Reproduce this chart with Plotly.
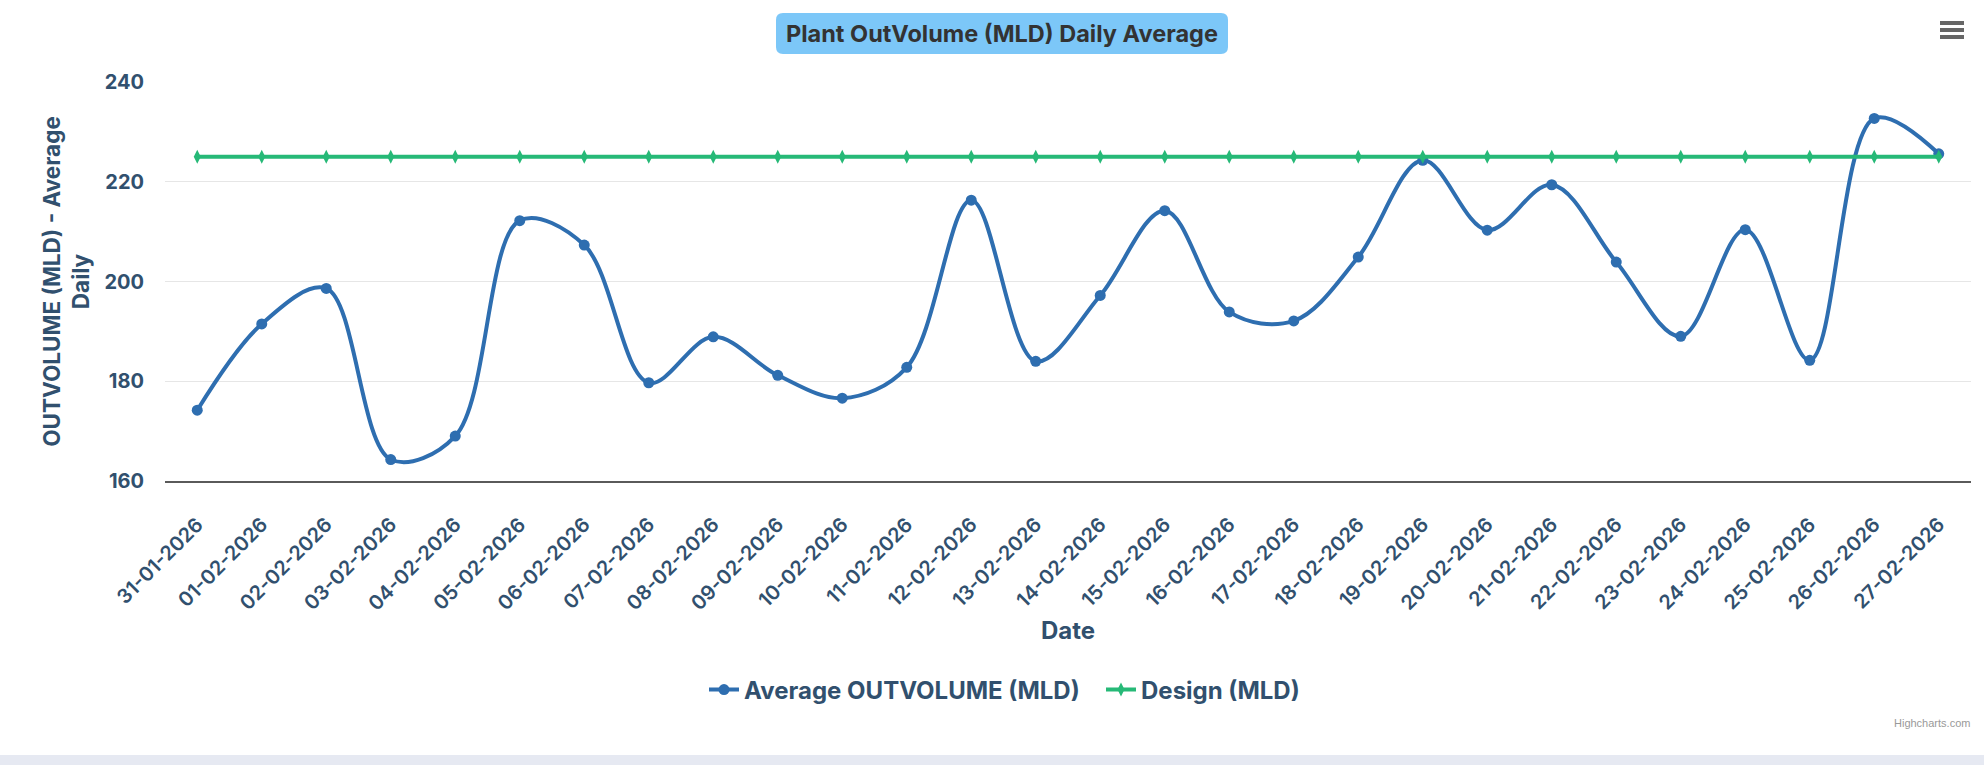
import plotly.graph_objects as go

# ---------------- data ----------------
dates = ["31-01-2026", "01-02-2026", "02-02-2026", "03-02-2026", "04-02-2026",
         "05-02-2026", "06-02-2026", "07-02-2026", "08-02-2026", "09-02-2026",
         "10-02-2026", "11-02-2026", "12-02-2026", "13-02-2026", "14-02-2026",
         "15-02-2026", "16-02-2026", "17-02-2026", "18-02-2026", "19-02-2026",
         "20-02-2026", "21-02-2026", "22-02-2026", "23-02-2026", "24-02-2026",
         "25-02-2026", "26-02-2026", "27-02-2026"]
avg_outvolume = [174.2, 191.5, 198.6, 164.3, 169.0, 212.2, 207.3, 179.7,
                 188.9, 181.2, 176.6, 182.8, 216.3, 184.0, 197.2, 214.2,
                 193.9, 192.1, 204.9, 224.3, 210.3, 219.4, 203.9, 189.0,
                 210.4, 184.2, 232.7, 225.6]
design = [225, 225, 225, 225, 225, 225, 225, 225, 225, 225, 225, 225, 225, 225,
          225, 225, 225, 225, 225, 225, 225, 225, 225, 225, 225, 225, 225, 225]
y_ticks = [160, 180, 200, 220, 240]

# ---------------- layout geometry ----------------
W, H = 1984, 765
L, R, T, B = 165, 13, 82, 284
PW, PH = W - L - R, H - T - B


def px(x):
    return (x - L) / PW


def py(y):
    return (H - B - y) / PH


TXT = "#31506e"
FONT = "Inter"
BLUE = "#2e6eb0"
GREEN = "#26b977"

fig = go.Figure()
fig.add_trace(go.Scatter(
    x=dates, y=avg_outvolume, name="Average OUTVOLUME (MLD)",
    mode="lines+markers",
    line=dict(color=BLUE, width=4, shape="spline", smoothing=1.0),
    marker=dict(symbol="circle", size=11, color=BLUE),
))
fig.add_trace(go.Scatter(
    x=dates, y=design, name="Design (MLD)",
    mode="lines+markers",
    line=dict(color=GREEN, width=4),
    marker=dict(symbol="diamond-tall", size=10, color=GREEN),
))

fig.update_layout(
    width=W, height=H,
    margin=dict(l=L, r=R, t=T, b=B),
    paper_bgcolor="white", plot_bgcolor="white",
    font=dict(family=FONT, color=TXT),
    showlegend=True,
    legend=dict(orientation="h", x=px(704), xanchor="left",
                y=py(690), yanchor="middle",
                font=dict(size=24, weight=700, color=TXT),
                entrywidth=352, entrywidthmode="pixels",
                itemwidth=30, tracegroupgap=0),
    hovermode="x unified",
)

fig.update_xaxes(
    type="category",
    range=[-0.5, len(dates) - 0.5],
    tickangle=-45,
    tickfont=dict(size=20, weight=600, color=TXT, family=FONT),
    ticklabelstandoff=22,
    showgrid=False,
    showline=True, linecolor="#5a5a5a", linewidth=2,
    ticks="",
    zeroline=False,
    title=dict(text="Date", font=dict(size=24, weight=700, color=TXT, family=FONT),
               standoff=8),
    automargin=False,
)
fig.update_yaxes(
    range=[160, 240],
    tickvals=y_ticks,
    tickfont=dict(size=20, weight=700, color=TXT, family=FONT),
    ticklabelstandoff=20,
    showgrid=True, gridcolor="#e6e6e6", gridwidth=1,
    zeroline=False, showline=False, ticks="",
    title=dict(text="OUTVOLUME (MLD) - Average<br>Daily",
               font=dict(size=22.5, weight=700, color=TXT, family=FONT),
               standoff=8),
    automargin=False,
)

# title box (rounded) + title text
bx0, bx1, by0, by1, rr = 776, 1228, 13, 54, 7
path = (f"M {px(bx0 + rr)},{py(by0)} L {px(bx1 - rr)},{py(by0)} "
        f"Q {px(bx1)},{py(by0)} {px(bx1)},{py(by0 + rr)} "
        f"L {px(bx1)},{py(by1 - rr)} Q {px(bx1)},{py(by1)} {px(bx1 - rr)},{py(by1)} "
        f"L {px(bx0 + rr)},{py(by1)} Q {px(bx0)},{py(by1)} {px(bx0)},{py(by1 - rr)} "
        f"L {px(bx0)},{py(by0 + rr)} Q {px(bx0)},{py(by0)} {px(bx0 + rr)},{py(by0)} Z")
fig.add_shape(type="path", xref="paper", yref="paper", path=path,
              fillcolor="#7cc7f8", line=dict(width=0), layer="above")
fig.add_annotation(
    xref="paper", yref="paper", x=px(1002), y=py(33.5),
    xanchor="center", yanchor="middle",
    text="Plant OutVolume (MLD) Daily Average", showarrow=False,
    font=dict(size=23.5, weight=700, color="#333333", family=FONT),
)

# credit
fig.add_annotation(
    xref="paper", yref="paper", x=px(1972), y=py(723),
    xanchor="right", yanchor="middle", showarrow=False,
    text="Highcharts.com", font=dict(size=11, color="#999999", family="Liberation Sans"),
)

# hamburger menu icon
for yy in (23, 30, 37):
    fig.add_shape(type="line", xref="paper", yref="paper",
                  x0=px(1940), x1=px(1964), y0=py(yy), y1=py(yy),
                  line=dict(color="#666666", width=4))

# bottom grey band
fig.add_shape(type="rect", xref="paper", yref="paper",
              x0=px(0), x1=px(W), y0=py(755), y1=py(H),
              fillcolor="#e6e9f2", line=dict(width=0), layer="below")

fig.write_html("out.html", config={"displayModeBar": False},
               post_script="document.body.style.margin='0';")
